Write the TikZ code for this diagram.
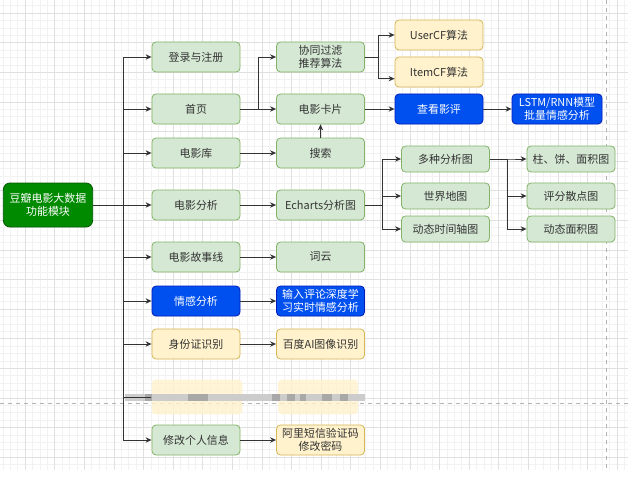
\documentclass[tikz,border=0pt]{standalone}
\usepackage{fontspec}
\setmainfont{Noto Sans CJK SC}
\usetikzlibrary{arrows.meta}

\definecolor{gfill}{HTML}{D5E8D4}
\definecolor{gline}{HTML}{82B366}
\definecolor{yfill}{HTML}{FFF2CC}
\definecolor{yline}{HTML}{D6B656}
\definecolor{bfill}{HTML}{0050EF}
\definecolor{bline}{HTML}{001DBC}
\definecolor{rfill}{HTML}{008A00}
\definecolor{rline}{HTML}{005700}
\definecolor{ink}{HTML}{333333}

\begin{document}
\begin{tikzpicture}[x=0.75pt, y=-0.75pt,
  box/.style={rounded corners=3pt, line width=0.6pt, minimum width=66pt,
    minimum height=22.5pt, align=center, inner sep=1pt,
    font=\fontsize{8.2}{10}\selectfont, text=ink},
  gbox/.style={box, fill=gfill, draw=gline},
  ybox/.style={box, fill=yfill, draw=yline},
  bbox/.style={box, fill=bfill, draw=bline, text=white},
  small/.style={minimum height=19.5pt},
  rootbox/.style={box, fill=rfill, draw=rline, text=white,
    minimum width=67pt, minimum height=33pt, rounded corners=5pt},
  blurbox/.style={fill=yfill, fill opacity=0.8, minimum height=26pt},
  arr/.style={draw=black!80, line width=0.7pt, -{Stealth[length=4.5pt,width=4pt]}},
  gridmajor/.style={black!12, line width=0.4pt},
  gridminor/.style={black!5, line width=0.3pt},
  pagebreak/.style={black!30, dashed, line width=0.5pt}]

  \useasboundingbox[fill=white] (0,0) rectangle (628,485);

  %-------------------------
  % Background grid
  %-------------------------
  \begin{scope}
    \clip (0,0) rectangle (628,470);
    \foreach \k in {-4,...,82} \draw[gridminor] ({25+7.4*\k},0) -- ({25+7.4*\k},470);
    \foreach \k in {-2,...,62} \draw[gridminor] (0,{13+7.4*\k}) -- (628,{13+7.4*\k});
    \foreach \k in {-1,...,21} \draw[gridmajor] ({25+29.6*\k},0) -- ({25+29.6*\k},470);
    \foreach \k in {0,...,15} \draw[gridmajor] (0,{13+29.6*\k}) -- (628,{13+29.6*\k});
  \end{scope}
  \draw[pagebreak] (606,0) -- (606,470);
  \draw[pagebreak] (0,403) -- (628,403);

  %-------------------------
  % Root
  %-------------------------
  \node[rootbox] (root) at (48,205) {豆瓣电影大数据\\功能模块};

  %-------------------------
  % First column: modules
  %-------------------------
  \node[gbox] (login)   at (196,57)  {登录与注册};
  \node[gbox] (home)    at (196,109) {首页};
  \node[gbox] (lib)     at (196,153) {电影库};
  \node[gbox] (ana)     at (196,205) {电影分析};
  \node[gbox] (story)   at (196,257) {电影故事线};
  \node[bbox] (senti)   at (196,301) {情感分析};
  \node[ybox] (idcard)  at (196,344) {身份证识别};
  \node[box, blurbox, minimum width=68pt] (blurA) at (197,397) {};
  \node[gbox] (profile) at (196,440) {修改个人信息};

  %-------------------------
  % Second column
  %-------------------------
  \node[gbox] (cf)      at (320.5,57)  {协同过滤\\推荐算法};
  \node[gbox] (card)    at (320.5,109) {电影卡片};
  \node[gbox] (search)  at (320.5,153) {搜索};
  \node[gbox] (echarts) at (320.5,205) {Echarts分析图};
  \node[gbox] (cloud)   at (320.5,257) {词云};
  \node[bbox] (deep)    at (320.5,301) {输入评论深度学\\习实时情感分析};
  \node[ybox] (baidu)   at (320.5,344) {百度AI图像识别};
  \node[box, blurbox, minimum width=60pt] (blurB) at (318,397) {};
  \node[ybox] (sms)     at (320.5,440) {阿里短信验证码\\修改密码};

  % blurred row
  \fill[black!20] (125,394) rectangle (365,401);
  \foreach \a/\b in {145/152,188/208,272/280,287/295,300/306,322/332,340/348}
    \fill[black!40, opacity=0.7] (\a,394) rectangle (\b,401);

  %-------------------------
  % Third / fourth columns
  %-------------------------
  \node[ybox] (usercf) at (439,35)  {UserCF算法};
  \node[ybox] (itemcf) at (439,72)  {ItemCF算法};
  \node[bbox] (review) at (439,109) {查看影评};
  \node[bbox, minimum width=67.5pt] (lstm) at (557,109) {LSTM/RNN模型\\批量情感分析};

  \node[gbox, small] (multi) at (445.5,159) {多种分析图};
  \node[gbox, small] (world) at (445.5,196) {世界地图};
  \node[gbox, small] (time)  at (445.5,229) {动态时间轴图};

  \node[gbox, small] (bar)     at (571,159) {柱、饼、面积图};
  \node[gbox, small] (scatter) at (571,196) {评分散点图};
  \node[gbox, small] (area)    at (571,229) {动态面积图};

  %-------------------------
  % Connectors
  %-------------------------
  \draw[arr] (root.east) -- (ana.west);
  \foreach \n in {login,home,lib,story,senti,idcard,profile}
    \draw[arr] (root.east) -- ++(30,0) |- (\n.west);
  \draw[draw=black!80, line width=0.7pt] (root.east) -- ++(30,0) |- (blurA.west);

  \draw[arr] (home.east) -- ++(18,0) |- (cf.west);
  \draw[arr] (home) -- (card);
  \draw[arr] (lib) -- (search);
  \draw[arr] (search) -- (card);
  \draw[arr] (ana) -- (echarts);
  \draw[arr] (story) -- (cloud);
  \draw[arr] (senti) -- (deep);
  \draw[arr] (idcard) -- (baidu);
  \draw[arr] (profile) -- (sms);

  \draw[arr] (cf.east) -- ++(14,0) |- (usercf.west);
  \draw[arr] (cf.east) -- ++(14,0) |- ([yshift=-5pt]itemcf.west);
  \draw[arr] (card) -- (review);
  \draw[arr] (review) -- (lstm);

  \foreach \n in {multi,world,time}
    \draw[arr] (echarts.east) -- ++(18,0) |- (\n.west);
  \foreach \n in {bar,scatter,area}
    \draw[arr] (multi.east) -- ++(18,0) |- (\n.west);

\end{tikzpicture}
\end{document}
